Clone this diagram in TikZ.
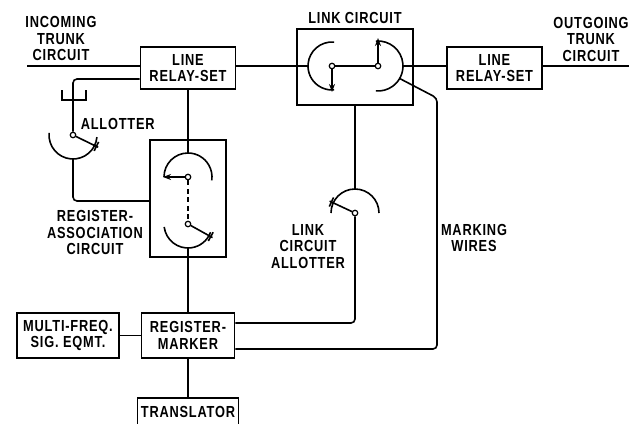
\documentclass[tikz,border=0pt]{standalone}
\usepackage{fontspec}
\setmainfont{Liberation Sans}[FakeStretch=0.8,LetterSpace=5]
\usetikzlibrary{arrows.meta}
\begin{document}
\begin{tikzpicture}[x=1pt,y=1pt,line width=1.6pt,
  box/.style={draw,rectangle,inner sep=0pt,align=center,font=\fontsize{16}{16.5}\selectfont\bfseries},
  lbl/.style={align=center,inner sep=0pt,font=\fontsize{16}{16.5}\selectfont\bfseries},
  pivot/.style={circle,draw,fill=white,inner sep=0pt,minimum size=5.5pt,line width=1.2pt},
  wire/.style={rounded corners=4pt},
  wiparrow/.style={-{Stealth[length=8pt,width=6pt]}}]
\useasboundingbox (0,0) rectangle (629,-423);
% boxes
\node[box,minimum width=95pt,minimum height=42pt] (lrs1) at (188,-68) {LINE\\RELAY-SET};
\node[box,minimum width=95pt,minimum height=42pt] (lrs2) at (494.5,-68) {LINE\\RELAY-SET};
\node[box,minimum width=116pt,minimum height=76pt] (link) at (355,-67) {};
\node[box,minimum width=76pt,minimum height=117pt] (rac) at (188,-198.5) {};
\node[box,minimum width=93pt,minimum height=45pt] (rm) at (188,-335.5) {REGISTER-\\MARKER};
\node[box,minimum width=102pt,minimum height=45pt] (mf) at (68,-335.5) {MULTI-FREQ.\\SIG. EQMT.};
\node[box,minimum width=101pt,minimum height=28pt] (tr) at (188,-412) {TRANSLATOR};
% pivots
\node[pivot] (pa) at (73,-135) {};
\node[pivot] (pu) at (188,-177) {};
\node[pivot] (pl) at (188,-224) {};
\node[pivot] (pk1) at (332,-66) {};
\node[pivot] (pk2) at (378,-66) {};
\node[pivot] (pc) at (355,-213) {};
% labels
\node[lbl] (tinc) at (61,-38.5) {INCOMING\\TRUNK\\CIRCUIT};
\node[lbl] (tlink) at (355,-18) {LINK CIRCUIT};
\node[lbl] (tout) at (591,-39) {OUTGOING\\TRUNK\\CIRCUIT};
\node[lbl,anchor=west] (tall) at (80,-124) {ALLOTTER};
\node[lbl] (trac) at (95,-232.5) {REGISTER-\\ASSOCIATION\\CIRCUIT};
\node[lbl] (tlca) at (308,-246.5) {LINK\\CIRCUIT\\ALLOTTER};
\node[lbl] (tmw) at (474,-238) {MARKING\\WIRES};
% coordinates
\coordinate (inc) at (27,-66);
\coordinate (out) at (629,-66);
\coordinate (k1l) at ([xshift=-24pt]pk1.center);
\coordinate (k2r) at ([xshift=25pt]pk2.center);
\coordinate (mw0) at ([shift={(-30:25)}]pk2.center);
\coordinate (mw1) at (437,-98);
\coordinate (rmlow) at ([yshift=-13.5pt]rm.east);
\coordinate (rmhigh) at ([yshift=12.5pt]rm.east);
\coordinate (pctop) at ([yshift=24pt]pc.center);
\coordinate (putop) at ([yshift=24pt]pu.center);
\coordinate (plbot) at ([yshift=-24pt]pl.center);
\coordinate (lr1b) at ([yshift=-11pt]lrs1.west);
\coordinate (fk) at (73,-100);
\coordinate (pabot) at ([yshift=-24pt]pa.center);
\coordinate (rac1) at ([yshift=-2.5pt]rac.west);
% trunk line
\draw (inc) -- (inc -| lrs1.west);
\draw (lrs1.east |- k1l) -- (k1l);
\draw (pk1) -- (pk2);
\draw (k2r) -- (k2r -| lrs2.west);
\draw (lrs2.east |- out) -- (out);
% link circuit switches
\draw ([shift={(85:24)}]pk1.center) arc[start angle=85,end angle=275,radius=24];
\draw[wiparrow] (pk1) -- ([yshift=-26pt]pk1.center);
\draw ([shift={(95:25)}]pk2.center) arc[start angle=95,end angle=-95,radius=25];
\draw[wiparrow] (pk2) -- ([yshift=28pt]pk2.center);
% marking wires
\draw[wire] (mw0) -- (mw1) -- (mw1 |- rmlow) -- (rmlow);
% link circuit allotter
\draw (link.south -| pctop) -- (pctop);
\draw ([shift={(0:24)}]pc.center) arc[start angle=0,end angle=180,radius=24];
\draw (pc) -- ([shift={(155:28)}]pc.center);
\draw ([shift={(155:26)}]pc.center) ++(65:5) -- ++(245:10);
\draw[wire] (pc) -- (pc |- rmhigh) -- (rmhigh);
% register association circuit
\draw (lrs1.south) -- (putop);
\draw ([shift={(180:24)}]pu.center) arc[start angle=180,end angle=-8,radius=24];
\draw[wiparrow] (pu) -- ([xshift=-25pt]pu.center);
\draw[dash pattern=on 5pt off 3.5pt] (pu) -- (pl);
\draw ([shift={(187:24)}]pl.center) arc[start angle=187,end angle=340,radius=24];
\draw (pl) -- ([shift={(-29:28)}]pl.center);
\draw ([shift={(-29:26)}]pl.center) ++(61:5) -- ++(241:10);
\draw (plbot) -- (rm.north);
% register-marker links
\draw (mf) -- (rm);
\draw (rm) -- (tr);
% allotter
\draw[wire] (lr1b) -- (lr1b -| pa) -- (pa);
\draw ([shift={(-11pt,10pt)}]fk) -- ([xshift=-11pt]fk) -- ([xshift=13pt]fk) -- ([shift={(13pt,10pt)}]fk);
\draw ([shift={(175:24)}]pa.center) arc[start angle=175,end angle=355,radius=24];
\draw (pa) -- ([shift={(-26:28)}]pa.center);
\draw ([shift={(-26:26)}]pa.center) ++(64:5) -- ++(244:10);
\draw[wire] (pabot) -- (pabot |- rac1) -- (rac1);
\end{tikzpicture}
\end{document}
